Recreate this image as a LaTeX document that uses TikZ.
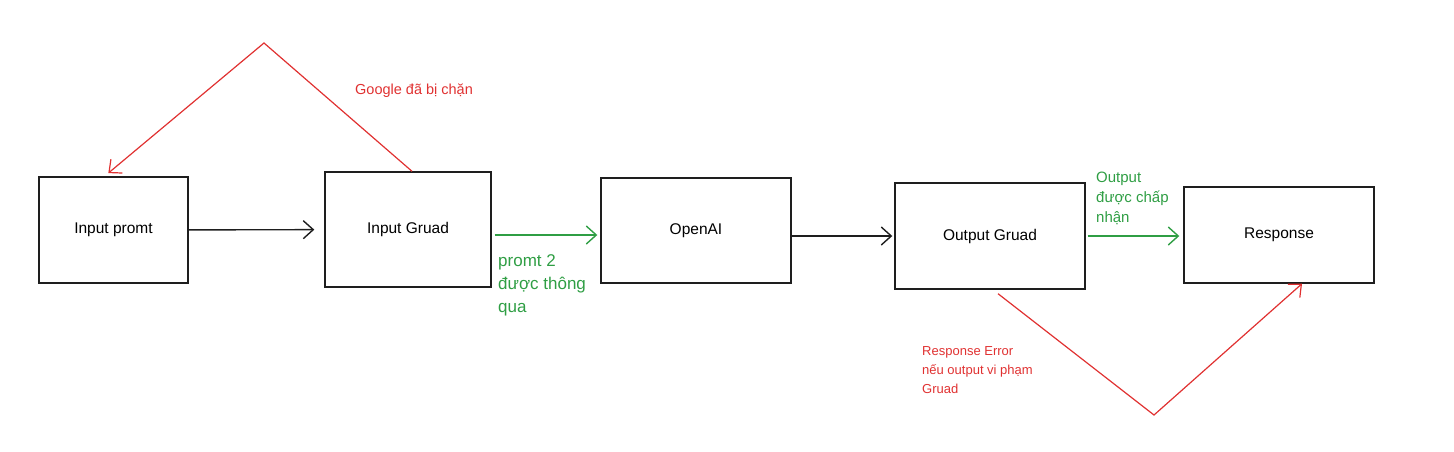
\documentclass[tikz,border=0pt]{standalone}
\usepackage{fontspec}
\setmainfont{Liberation Sans}
\usetikzlibrary{arrows.meta}
\definecolor{inkred}{RGB}{224,49,49}
\definecolor{inkgreen}{RGB}{47,158,68}
\definecolor{inkblack}{RGB}{30,30,30}

\begin{document}
\begin{tikzpicture}[x=1pt,y=-1pt,>={Straight Barb[length=10pt,width=18pt]}]
\useasboundingbox (0,0) rectangle (1454,451);
\begin{scope}[every node/.style={rectangle,draw=inkblack,line width=1.4pt,inner sep=0pt,font=\fontsize{15.5}{18}\selectfont}]
    \node[minimum width=149pt,minimum height=106pt] (inprompt) at (113.5,230) {Input promt};
    \node[minimum width=166pt,minimum height=115pt] (inguard) at (408,229.5) {Input Gruad};
    \node[minimum width=190pt,minimum height=105pt] (openai) at (696,230.5) {OpenAI};
    \node[minimum width=190pt,minimum height=106pt] (outguard) at (990,236) {Output Gruad};
    \node[minimum width=190pt,minimum height=96pt] (response) at (1279,235) {Response};
\end{scope}
\coordinate (apexA) at (264,43);
\coordinate (apexB) at (1154,415);
\begin{scope}[every edge/.style={draw,line width=1.4pt,->}]
    \path (inprompt) edge[inkblack,shorten >=10pt] (inguard);
    \path (inguard.east |- 0,235) edge[inkgreen,shorten <=3pt,shorten >=3pt] (openai.west |- 0,235);
    \path (openai.east |- 0,236) edge[inkblack,shorten >=2pt] (outguard.west |- 0,236);
    \path (outguard.east |- 0,236) edge[inkgreen,shorten <=2pt,shorten >=4pt] (response.west |- 0,236);
\end{scope}
\draw[inkred,line width=1.2pt,->,shorten >=5pt] ([xshift=4pt]inguard.north) -- (apexA) -- ([xshift=-9pt]inprompt.north);
\draw[inkred,line width=1.2pt,->] ([xshift=8pt]outguard.south) ++(0,4) -- (apexB) -- ([xshift=23pt]response.south);
\begin{scope}[every node/.style={anchor=west,inner sep=0pt,align=left}]
    \node[inkred,font=\fontsize{14.5}{16}\selectfont] (blocked) at (355,91) {Google đã bị chặn};
    \node[inkgreen,font=\fontsize{17}{23}\selectfont] (passed) at (498,285) {promt 2\\được thông\\qua};
    \node[inkgreen,font=\fontsize{15}{20}\selectfont] (accepted) at (1096,198) {Output\\được chấp\\nhận};
    \node[inkred,font=\fontsize{13}{19}\selectfont] (rejected) at (922,370) {Response Error\\nếu output vi phạm\\Gruad};
\end{scope}
\end{tikzpicture}
\end{document}
